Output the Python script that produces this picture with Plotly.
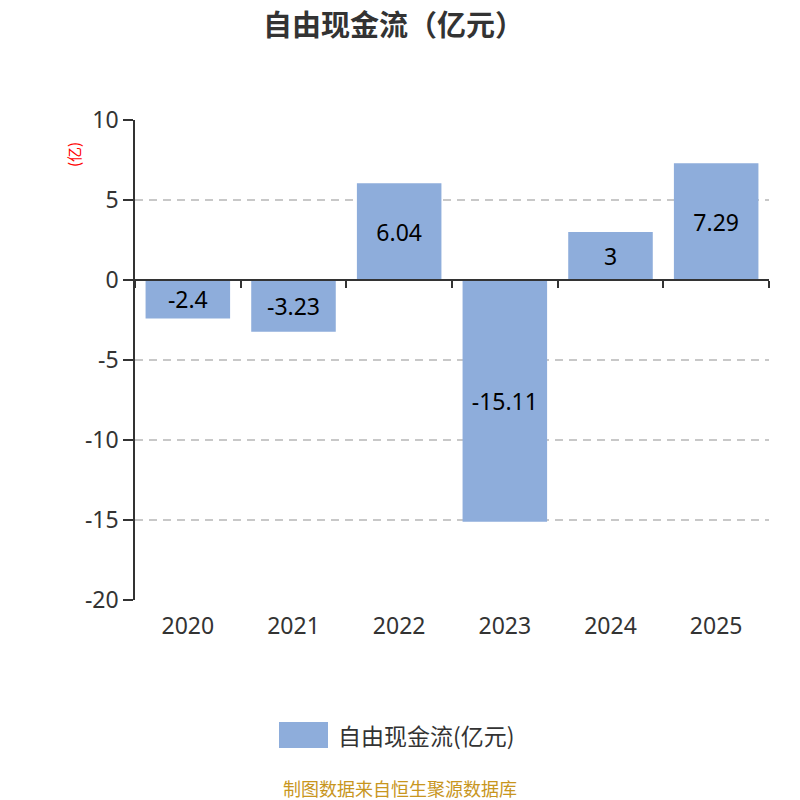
import plotly.graph_objects as go

years = ["2020", "2021", "2022", "2023", "2024", "2025"]
values = [-2.4, -3.23, 6.04, -15.11, 3, 7.29]
labels = ["-2.4", "-3.23", "6.04", "-15.11", "3", "7.29"]
y_ticks = [10, 5, 0, -5, -10, -15, -20]
y_tick_labels = ["10", "5", "0", "-5", "-10", "-15", "-20"]

FONT = "Noto Sans, Noto Sans CJK SC, sans-serif"
CJK = "Noto Sans CJK SC, sans-serif"
BAR = "#8EADDB"
AX = "#333333"

PL, PT, PR, PB = 135, 120, 769, 600  # plot area in page pixels
W = H = 800


def px(x):
    return (x - PL) / (PR - PL)


def py(y):
    return (PB - y) / (PB - PT)


fig = go.Figure()
fig.add_trace(go.Bar(
    x=years, y=values, text=labels,
    textposition="inside", insidetextanchor="middle",
    textfont=dict(size=23, color="#000000", family=FONT),
    constraintext="none",
    marker=dict(color=BAR, line=dict(width=0)),
    width=0.8, showlegend=False, cliponaxis=False,
    name="自由现金流(亿元)",
))

n = len(years)
boundaries = [i - 0.5 for i in range(n + 1)]

fig.update_layout(
    width=W, height=H,
    paper_bgcolor="white", plot_bgcolor="white",
    margin=dict(l=PL, r=W - PR, t=PT, b=H - PB),
    font=dict(family=FONT, color=AX),
    xaxis=dict(type="category", range=[-0.5, n - 0.5], showline=False,
               ticks="", showgrid=False, zeroline=False,
               tickfont=dict(size=23, color="#333333"), ticklabelstandoff=10),
    xaxis2=dict(overlaying="x", anchor="free", position=2 / 3, side="bottom",
                range=[-0.5, n - 0.5], showline=True, linecolor=AX, linewidth=1.5,
                ticks="outside", ticklen=7, tickwidth=1.5, tickcolor=AX,
                tickvals=boundaries, showticklabels=False, showgrid=False,
                zeroline=False),
    yaxis=dict(range=[-20, 10], tickvals=y_ticks, ticktext=y_tick_labels,
               showline=True, linecolor=AX,
               linewidth=1.5, ticks="outside", ticklen=10, tickwidth=1.5,
               tickcolor=AX, showgrid=True, gridcolor="#C8C8C8",
               griddash="8px,6px", gridwidth=1.5, zeroline=False,
               tickfont=dict(size=23, color="#333333")),
    bargap=0.2,
)
# invisible trace so xaxis2 is drawn
fig.add_trace(go.Scatter(x=[-0.5, n - 0.5], y=[None, None], xaxis="x2",
                         mode="lines", showlegend=False, hoverinfo="skip"))

# title
fig.add_annotation(text="<b>自由现金流（亿元）</b>", xref="paper", yref="paper",
                   x=px(393), y=py(23), xanchor="center", yanchor="middle",
                   showarrow=False, borderpad=0,
                   font=dict(size=29, color="#333333", family=CJK))
# y-axis unit label
fig.add_annotation(text="(亿)", xref="paper", yref="paper", x=px(73), y=py(155),
                   xanchor="center", yanchor="middle",
                   showarrow=False, textangle=-90, borderpad=0,
                   font=dict(size=15, color="#FF0000", family=CJK))
# legend marker + text
fig.add_shape(type="rect", xref="paper", yref="paper",
              x0=px(279), x1=px(328), y0=py(748), y1=py(722),
              fillcolor=BAR, line=dict(width=0))
fig.add_annotation(text="自由现金流(亿元)", xref="paper", yref="paper",
                   x=px(337), y=py(735), xanchor="left",
                   yanchor="middle", showarrow=False, borderpad=0,
                   font=dict(size=23, color="#333333", family=CJK))
# footer
fig.add_annotation(text="制图数据来自恒生聚源数据库", xref="paper", yref="paper",
                   x=px(400), y=py(788), xanchor="center",
                   yanchor="middle", showarrow=False, borderpad=0,
                   font=dict(size=18, color="#C8961E", family=CJK))

fig.write_html("out.html", config={"displayModeBar": False},
               post_script="document.body.style.margin='0';"
                           "document.body.style.overflow='hidden';")
